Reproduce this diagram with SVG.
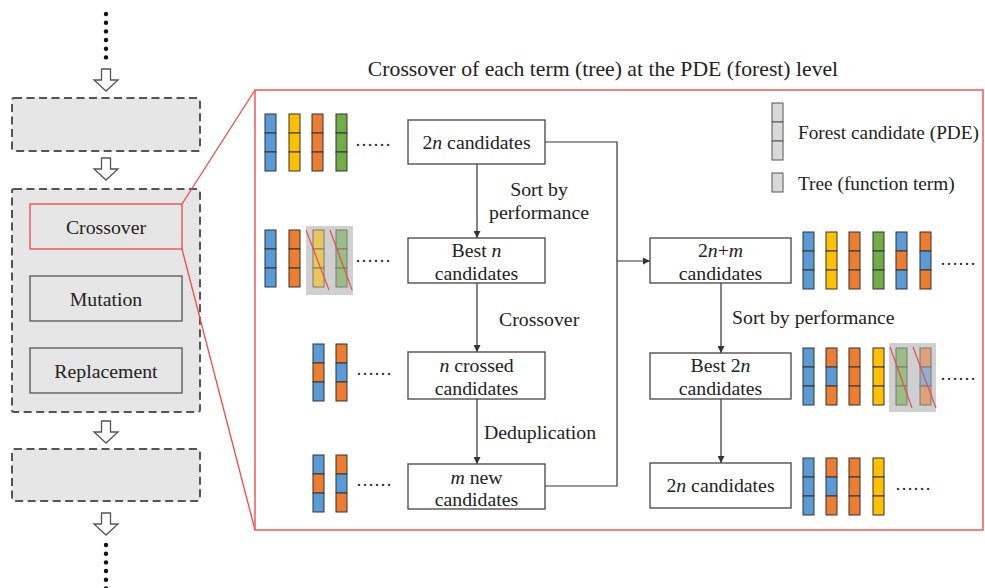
<svg xmlns="http://www.w3.org/2000/svg" xmlns:xlink="http://www.w3.org/1999/xlink" width="985" height="588" viewBox="0 0 985 588" font-family="'Liberation Serif', 'Times New Roman', Tinos, serif" font-size="19.8">
<style>
text{fill:#222}
.c{text-anchor:middle}
.dots{font-size:18px}
.leg{font-size:19.3px}
.dash{fill:#e6e6e6;stroke:#555;stroke-width:2;stroke-dasharray:8 4.5}
.box{fill:#fff;stroke:#444;stroke-width:1.3}
.ibox{fill:#e6e6e6;stroke:#555;stroke-width:1.3}
.ln{fill:none;stroke:#333;stroke-width:1.2}
.red{fill:none;stroke:#f04848;stroke-width:1.3}
.hol{fill:#fff;stroke:#555;stroke-width:1.3}
.B{fill:#5b9bd5}.Y{fill:#ffc000}.O{fill:#ed7d31}.G{fill:#70ad47}
.cell rect{stroke:#333;stroke-width:1}
.fade{opacity:0.55}
.x{stroke:#e05050;stroke-width:1.2}
</style>
<defs>
<marker id="ah" viewBox="0 0 10 10" refX="10" refY="5" markerWidth="7" markerHeight="7" markerUnits="userSpaceOnUse" orient="auto"><path d="M0,0L10,5L0,10z" fill="#333"/></marker>
<g id="cB" class="cell"><rect class="B" width="11" height="19"/><rect class="B" y="19" width="11" height="19"/><rect class="B" y="38" width="11" height="19"/></g>
<g id="cY" class="cell"><rect class="Y" width="11" height="19"/><rect class="Y" y="19" width="11" height="19"/><rect class="Y" y="38" width="11" height="19"/></g>
<g id="cO" class="cell"><rect class="O" width="11" height="19"/><rect class="O" y="19" width="11" height="19"/><rect class="O" y="38" width="11" height="19"/></g>
<g id="cG" class="cell"><rect class="G" width="11" height="19"/><rect class="G" y="19" width="11" height="19"/><rect class="G" y="38" width="11" height="19"/></g>
<g id="cBOB" class="cell"><rect class="B" width="11" height="19"/><rect class="O" y="19" width="11" height="19"/><rect class="B" y="38" width="11" height="19"/></g>
<g id="cOBO" class="cell"><rect class="O" width="11" height="19"/><rect class="B" y="19" width="11" height="19"/><rect class="O" y="38" width="11" height="19"/></g>
<path id="hollow" d="M-4.5,0H4.5V11H12L0,22L-12,11H-4.5Z"/>
</defs>

<!-- left flow column -->
<g id="flow-left">
  <g fill="#111">
    <circle cx="106" cy="14" r="2.2"/><circle cx="106" cy="22.7" r="2.2"/><circle cx="106" cy="31.4" r="2.2"/><circle cx="106" cy="40" r="2.2"/><circle cx="106" cy="48.7" r="2.2"/><circle cx="106" cy="57.4" r="2.2"/>
    <circle cx="106" cy="545" r="2.2"/><circle cx="106" cy="553.7" r="2.2"/><circle cx="106" cy="562.4" r="2.2"/><circle cx="106" cy="571" r="2.2"/><circle cx="106" cy="579.7" r="2.2"/><circle cx="106" cy="588.4" r="2.2"/>
  </g>
  <use xlink:href="#hollow" class="hol" x="106" y="69"/>
  <use xlink:href="#hollow" class="hol" x="106" y="158"/>
  <use xlink:href="#hollow" class="hol" x="106" y="421"/>
  <use xlink:href="#hollow" class="hol" x="106" y="513"/>
</g>
<g id="stage-prev"><rect class="dash" x="12" y="98" width="188" height="53" rx="2"/></g>
<g id="stage-ga">
  <rect class="dash" x="12" y="189" width="188" height="223" rx="2"/>
</g>
<g id="op-crossover"><rect class="ibox" x="30" y="204" width="152" height="45" style="stroke:#f04848"/><text class="c" x="106" y="234">Crossover</text></g>
<g id="op-mutation"><rect class="ibox" x="30" y="276" width="152" height="45"/><text class="c" x="106" y="306">Mutation</text></g>
<g id="op-replacement"><rect class="ibox" x="30" y="348" width="152" height="45"/><text class="c" x="106" y="378">Replacement</text></g>
<g id="stage-next"><rect class="dash" x="12" y="449" width="188" height="52" rx="2"/></g>

<!-- zoom panel -->
<g id="panel">
  <line class="red" x1="182" y1="204" x2="255" y2="90"/>
  <line class="red" x1="182" y1="249" x2="255" y2="530"/>
  <rect x="255" y="90" width="728" height="440" fill="none" stroke="#f26262" stroke-width="1.6"/>
  <text class="c" x="603" y="76" font-size="21.7">Crossover of each term (tree) at the PDE (forest) level</text>
</g>

<!-- legend -->
<g id="legend">
  <rect x="772" y="103" width="11" height="19" fill="#d9d9d9" stroke="#555"/>
  <rect x="772" y="122" width="11" height="19" fill="#d9d9d9" stroke="#555"/>
  <rect x="772" y="141" width="11" height="19" fill="#d9d9d9" stroke="#555"/>
  <text class="leg" x="798" y="139">Forest candidate (PDE)</text>
  <rect x="772" y="173" width="11" height="19" fill="#d9d9d9" stroke="#555"/>
  <text class="leg" x="798" y="190">Tree (function term)</text>
</g>

<!-- connectors -->
<g id="connectors">
  <line class="ln" x1="477" y1="164" x2="477" y2="238" marker-end="url(#ah)"/>
  <line class="ln" x1="477" y1="283" x2="477" y2="352" marker-end="url(#ah)"/>
  <line class="ln" x1="477" y1="399" x2="477" y2="464" marker-end="url(#ah)"/>
  <polyline class="ln" points="545,142 617,142 617,486 545,486"/>
  <line class="ln" x1="617" y1="261" x2="650" y2="261" marker-end="url(#ah)"/>
  <line class="ln" x1="721" y1="283" x2="721" y2="353" marker-end="url(#ah)"/>
  <line class="ln" x1="721" y1="399" x2="721" y2="463" marker-end="url(#ah)"/>
  <text x="539" y="196" class="c">Sort by</text>
  <text x="539" y="219" class="c">performance</text>
  <text x="499" y="326">Crossover</text>
  <text x="484" y="439">Deduplication</text>
  <text x="732" y="324">Sort by performance</text>
</g>

<!-- nodes -->
<g id="n-2n"><rect class="box" x="408" y="120" width="137" height="44"/><text class="c" x="476.5" y="149">2<tspan font-style="italic">n</tspan> candidates</text></g>
<g id="n-bestn"><rect class="box" x="408" y="238" width="137" height="45"/><text class="c" x="476.5" y="257">Best <tspan font-style="italic">n</tspan></text><text class="c" x="476.5" y="280">candidates</text></g>
<g id="n-crossed"><rect class="box" x="408" y="352" width="137" height="47"/><text class="c" x="476.5" y="372"><tspan font-style="italic">n</tspan> crossed</text><text class="c" x="476.5" y="395">candidates</text></g>
<g id="n-mnew"><rect class="box" x="408" y="464" width="137" height="45"/><text class="c" x="476.5" y="484"><tspan font-style="italic">m</tspan> new</text><text class="c" x="476.5" y="506">candidates</text></g>
<g id="n-2nm"><rect class="box" x="650" y="238" width="141" height="45"/><text class="c" x="720.5" y="257">2<tspan font-style="italic">n</tspan>+<tspan font-style="italic">m</tspan></text><text class="c" x="720.5" y="280">candidates</text></g>
<g id="n-best2n"><rect class="box" x="650" y="353" width="141" height="46"/><text class="c" x="720.5" y="372">Best 2<tspan font-style="italic">n</tspan></text><text class="c" x="720.5" y="395">candidates</text></g>
<g id="n-2nfinal"><rect class="box" x="650" y="463" width="141" height="45"/><text class="c" x="720.5" y="492">2<tspan font-style="italic">n</tspan> candidates</text></g>

<!-- candidate illustrations -->
<g id="cands-left">
  <use xlink:href="#cB" x="265" y="114"/><use xlink:href="#cY" x="289" y="114"/><use xlink:href="#cO" x="312" y="114"/><use xlink:href="#cG" x="336" y="114"/>
  <text class="dots" x="355" y="146">……</text>

  <use xlink:href="#cB" x="265" y="230"/><use xlink:href="#cO" x="289" y="230"/>
  <rect x="306" y="226" width="47" height="69" fill="#d0d0d0"/>
  <use xlink:href="#cY" x="313" y="230" class="fade"/><use xlink:href="#cG" x="336" y="230" class="fade"/>
  <line class="x" x1="306" y1="230" x2="329" y2="290"/><line class="x" x1="330" y1="230" x2="352" y2="290"/>
  <text class="dots" x="355" y="262">……</text>

  <use xlink:href="#cBOB" x="313" y="344"/><use xlink:href="#cOBO" x="336" y="344"/>
  <text class="dots" x="356" y="375">……</text>

  <use xlink:href="#cBOB" x="313" y="455"/><use xlink:href="#cOBO" x="336" y="455"/>
  <text class="dots" x="356" y="486">……</text>
</g>
<g id="cands-right">
  <use xlink:href="#cB" x="803" y="232"/><use xlink:href="#cY" x="826" y="232"/><use xlink:href="#cO" x="849" y="232"/><use xlink:href="#cG" x="873" y="232"/><use xlink:href="#cBOB" x="896" y="232"/><use xlink:href="#cOBO" x="920" y="232"/>
  <text class="dots" x="940" y="265">……</text>

  <use xlink:href="#cB" x="803" y="348"/><use xlink:href="#cOBO" x="826" y="348"/><use xlink:href="#cO" x="849" y="348"/><use xlink:href="#cY" x="873" y="348"/>
  <rect x="889" y="343" width="47" height="69" fill="#d0d0d0"/>
  <use xlink:href="#cG" x="896" y="348" class="fade"/><use xlink:href="#cOBO" x="920" y="348" class="fade"/>
  <line class="x" x1="890" y1="347" x2="912" y2="408"/><line class="x" x1="913" y1="347" x2="936" y2="408"/>
  <text class="dots" x="940" y="380">……</text>

  <use xlink:href="#cB" x="803" y="458"/><use xlink:href="#cOBO" x="826" y="458"/><use xlink:href="#cO" x="849" y="458"/><use xlink:href="#cY" x="873" y="458"/>
  <text class="dots" x="895" y="490">……</text>
</g>
</svg>
